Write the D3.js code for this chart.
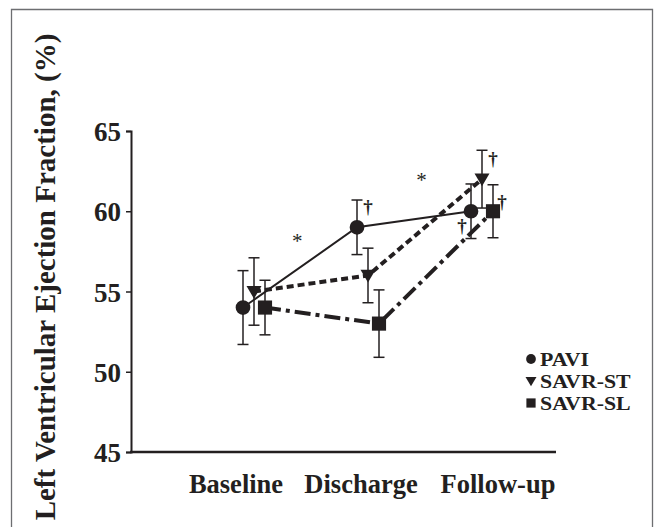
<!DOCTYPE html>
<head>
  <meta charset="utf-8" />
  <script src="https://d3js.org/d3.v7.min.js"></script>
  <style>
    body {
      margin: 0;
      background: #fff;
    }
    text {
      font-family: "Liberation Serif", "Times New Roman", serif;
      font-weight: bold;
      fill: #231f20;
    }
    .marks {
      opacity: 0.99;
    }
  </style>
</head>

<body>
  <script>
    var width = 658,
      height = 527;

    // data
    var categories = ["Baseline", "Discharge", "Follow-up"];
    var seriesNames = ["PAVI", "SAVR-ST", "SAVR-SL"];
    var paviMean = [54, 59, 60];
    var paviErr = [2.3, 1.7, 1.7];
    var stMean = [55, 56, 62];
    var stErr = [2.1, 1.7, 1.8];
    var slMean = [54, 53, 60];
    var slErr = [1.7, 2.1, 1.65];
    var yTicks = [45, 50, 55, 60, 65];

    // significance marks (category position, value)
    var marks = [
      { between: [0, 1], t: 0.38, v: 58.7, s: "*" },
      { between: [1, 2], t: 0.47, v: 62.5, s: "*" },
      { between: [1, 1], t: 0, v: 60.3, s: "†", dx: 0 },
      { between: [2, 2], t: 0, v: 63.3, s: "†", dx: 11 },
      { between: [2, 2], t: 0, v: 60.6, s: "†", dx: 20 },
      { between: [2, 2], t: 0, v: 59.1, s: "†", dx: -20 }
    ];

    var series = [
      { name: seriesNames[0], mean: paviMean, err: paviErr, off: -11, dash: null, w: 2, sym: d3.symbolCircle, size: 170 },
      { name: seriesNames[1], mean: stMean, err: stErr, off: 0, dash: "7,4", w: 4, sym: "tri", size: 0 },
      { name: seriesNames[2], mean: slMean, err: slErr, off: 11, dash: "16,5,4,5", w: 4, sym: d3.symbolSquare, size: 200 }
    ];

    var svg = d3
      .select("body")
      .append("svg")
      .attr("width", width)
      .attr("height", height);

    // outer frame
    svg.append("path")
      .attr("d", "M11.5," + (height + 5) + "V9.5H652.5V" + (height + 5))
      .attr("fill", "none")
      .attr("stroke", "#6d6e71")
      .attr("stroke-width", 1.3);

    var y = d3.scaleLinear().domain([45, 65]).range([452, 131]);
    var x = d3.scalePoint().domain(categories).range([254, 482]);

    // y axis
    var yAxis = svg.append("g")
      .attr("transform", "translate(131,0)")
      .call(d3.axisLeft(y).tickValues(yTicks).tickSize(5).tickPadding(5));
    yAxis.select(".domain").attr("stroke", "#231f20").attr("stroke-width", 2);
    yAxis.selectAll(".tick line").attr("stroke", "#231f20").attr("stroke-width", 1.5);
    yAxis.selectAll(".tick text")
      .style("font-size", "27px")
      .attr("dy", "0.36em")
      .attr("fill", "#231f20");

    // x axis line
    svg.append("line")
      .attr("x1", 130).attr("x2", 556)
      .attr("y1", y(45)).attr("y2", y(45))
      .attr("stroke", "#231f20")
      .attr("stroke-width", 2.5);

    var labelShift = [-18, -7, 16];
    svg.selectAll(".xlab")
      .data(categories)
      .join("text")
      .attr("class", "xlab")
      .attr("x", (d, i) => x(d) + labelShift[i])
      .attr("y", 493)
      .attr("text-anchor", "middle")
      .style("font-size", "26.5px")
      .text((d) => d);

    // y title
    svg.append("text")
      .attr("transform", "translate(55,277) rotate(-90)")
      .attr("text-anchor", "middle")
      .style("font-size", "29px")
      .text("Left Ventricular Ejection Fraction, (%)");

    var line = d3.line()
      .x((d) => d[0])
      .y((d) => d[1]);

    function tri(cx, cy, s) {
      return "M" + (cx - s) + "," + (cy - s * 0.75) + "H" + (cx + s) + "L" + cx + "," + (cy + s * 0.95) + "Z";
    }

    series.forEach(function (s) {
      var pts = categories.map((c, i) => [x(c) + s.off, y(s.mean[i])]);
      var g = svg.append("g");

      // error bars
      categories.forEach(function (c, i) {
        var cx = x(c) + s.off;
        var top = y(s.mean[i] + s.err[i]), bot = y(s.mean[i] - s.err[i]);
        g.append("line").attr("x1", cx).attr("x2", cx).attr("y1", top).attr("y2", bot)
          .attr("stroke", "#231f20").attr("stroke-width", 1.5);
        [top, bot].forEach(function (yy) {
          g.append("line").attr("x1", cx - 5.5).attr("x2", cx + 5.5).attr("y1", yy).attr("y2", yy)
            .attr("stroke", "#231f20").attr("stroke-width", 1.5);
        });
      });

      g.append("path")
        .attr("d", line(pts))
        .attr("fill", "none")
        .attr("stroke", "#231f20")
        .attr("stroke-width", s.w)
        .attr("stroke-dasharray", s.dash);

      pts.forEach(function (p) {
        if (s.sym === "tri") {
          g.append("path").attr("d", tri(p[0], p[1], 7.5)).attr("fill", "#231f20");
        } else {
          g.append("path")
            .attr("d", d3.symbol().type(s.sym).size(s.size)())
            .attr("transform", "translate(" + p[0] + "," + p[1] + ")")
            .attr("fill", "#231f20");
        }
      });
    });

    // significance marks
    svg.append("g")
      .attr("class", "marks")
      .selectAll("text")
      .data(marks)
      .join("text")
      .attr("x", function (d) {
        var a = x(categories[d.between[0]]), b = x(categories[d.between[1]]);
        return a + (b - a) * d.t + (d.dx || 0);
      })
      .attr("y", (d) => y(d.v))
      .attr("dy", (d) => (d.s === "*" ? "0.75em" : "0.35em"))
      .attr("text-anchor", "middle")
      .style("font-size", (d) => (d.s === "*" ? "21px" : "19px"))
      .style("font-weight", (d) => (d.s === "*" ? "normal" : "bold"))
      .text((d) => d.s);

    // legend
    var leg = svg.append("g").attr("transform", "translate(531,359)");
    series.forEach(function (s, i) {
      var gy = i * 22;
      if (s.sym === "tri") {
        leg.append("path").attr("d", tri(0, gy, 5.5)).attr("fill", "#231f20");
      } else {
        leg.append("path")
          .attr("d", d3.symbol().type(s.sym).size(s.sym === d3.symbolCircle ? 75 : 85)())
          .attr("transform", "translate(0," + gy + ")")
          .attr("fill", "#231f20");
      }
      leg.append("text")
        .attr("transform", "translate(9," + (gy + 7) + ") scale(1.15,1)")
        .style("font-size", "19px")
        .text(s.name);
    });
  </script>
</body>
